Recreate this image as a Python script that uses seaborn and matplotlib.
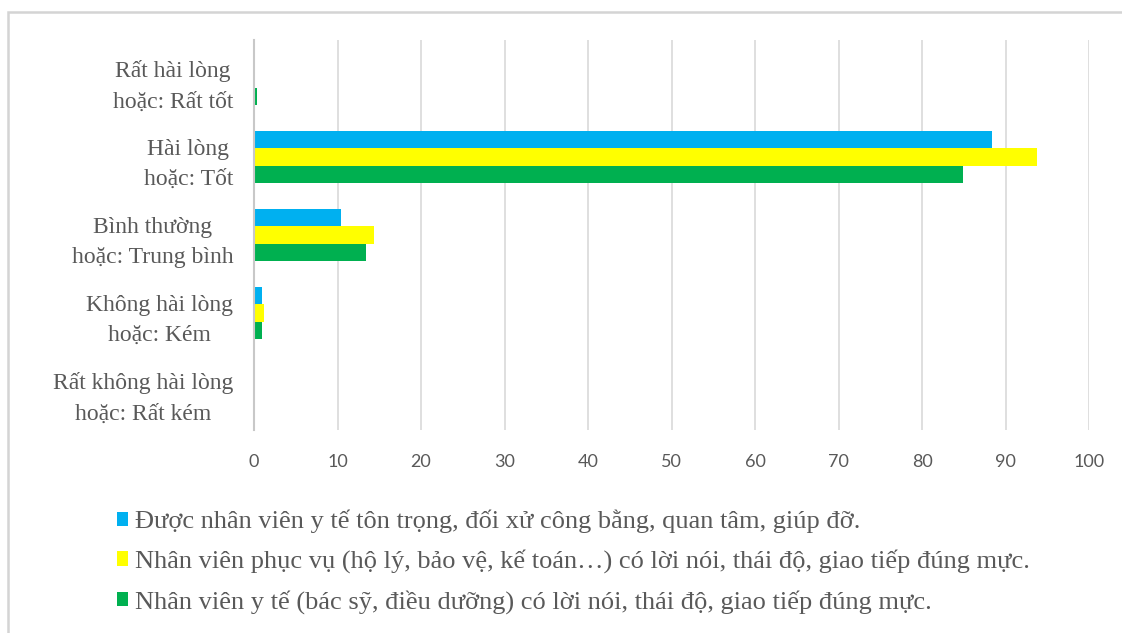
import matplotlib
matplotlib.use("Agg")
import matplotlib.pyplot as plt
from matplotlib.patches import Rectangle
import seaborn as sns
import pandas as pd

# Rating categories, top to bottom
categories = [
    "Rất hài lòng\nhoặc: Rất tốt",
    "Hài lòng\nhoặc: Tốt",
    "Bình thường\nhoặc: Trung bình",
    "Không hài lòng\nhoặc: Kém",
    "Rất không hài lòng\nhoặc: Rất kém",
]

series_names = [
    "Được nhân viên y tế tôn trọng, đối xử công bằng, quan tâm, giúp đỡ.",
    "Nhân viên phục vụ (hộ lý, bảo vệ, kế toán…) có lời nói, thái độ, giao tiếp đúng mực.",
    "Nhân viên y tế (bác sỹ, điều dưỡng) có lời nói, thái độ, giao tiếp đúng mực.",
]

# Percentages per category for each series
respected = [0.0, 88.4, 10.4, 0.9, 0.0]
support_staff = [0.0, 93.8, 14.4, 1.2, 0.0]
medical_staff = [0.4, 84.9, 13.4, 0.9, 0.0]

colors = ["#00B0F0", "#FFFF00", "#00B050"]
xticks = [0, 10, 20, 30, 40, 50, 60, 70, 80, 90, 100]

rows = []
for name, vals in zip(series_names, [respected, support_staff, medical_staff]):
    for cat, v in zip(categories, vals):
        rows.append({"category": cat, "series": name, "value": v})
df = pd.DataFrame(rows)

sns.set_theme(style="white")
plt.rcParams["font.family"] = ["Liberation Serif", "DejaVu Serif"]

fig = plt.figure(figsize=(11.22, 6.33), dpi=100)
W, H = 1122, 633
ax = fig.add_axes([254 / W, 1 - 430 / H, (1089 - 254) / W, (430 - 40) / H])

sns.barplot(
    data=df, x="value", y="category", hue="series", order=categories,
    hue_order=series_names, palette=colors, orient="h", width=0.66,
    saturation=1, ax=ax, legend=True, edgecolor="none", linewidth=0,
)

ax.set_xlim(0, 100)
ax.set_xticks(xticks)
ax.set_xticklabels([str(t) for t in xticks], fontfamily="Lato", fontsize=13,
                   color="#595959")
ax.set_xlabel("")
ax.set_ylabel("")
ax.tick_params(axis="x", length=0, pad=17)
ax.tick_params(axis="y", length=0, pad=15)
for lbl in ax.get_yticklabels():
    lbl.set_fontsize(17)
    lbl.set_color("#595959")
    lbl.set_multialignment("center")
    lbl.set_linespacing(1.6)

ax.grid(axis="x", color="#d9d9d9", linewidth=1.2)
ax.grid(axis="y", visible=False)
ax.set_axisbelow(True)
for side in ["top", "right", "bottom"]:
    ax.spines[side].set_visible(False)
ax.spines["left"].set_color("#c8c8c8")
ax.spines["left"].set_linewidth(1.5)

handles, labels = ax.get_legend_handles_labels()
ax.get_legend().remove()
leg = fig.legend(
    handles, labels, loc="upper left", bbox_to_anchor=(106 / W, 1 - 499 / H),
    frameon=False, fontsize=19, handlelength=0.45, handleheight=0.45,
    handletextpad=0.25, labelspacing=0.62, borderaxespad=0,
)
for t in leg.get_texts():
    t.set_color("#595959")

# Light frame around the chart area
fig.patches.append(Rectangle((8 / W, -0.1), 1.2, 1 - 12 / H + 0.1,
                             transform=fig.transFigure, fill=False,
                             edgecolor="#d4d4d4", linewidth=1.8))

fig.savefig("out.png", dpi=100)
